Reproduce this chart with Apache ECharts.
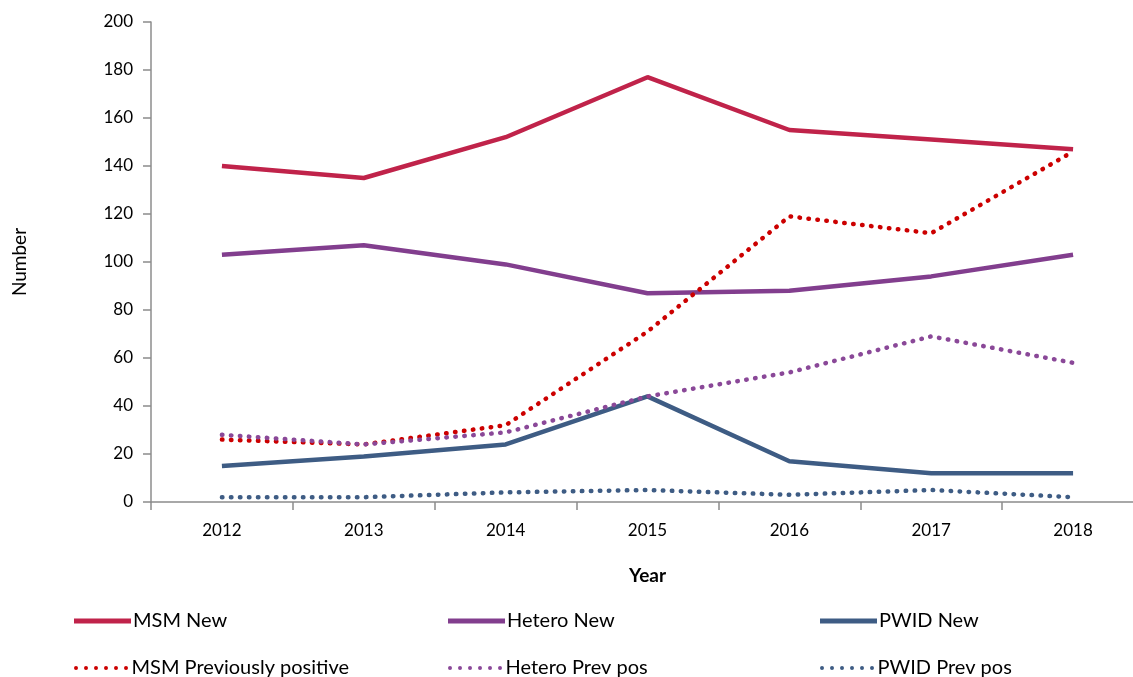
<!DOCTYPE html>
<html><head><meta charset="utf-8">
<script src="https://cdn.jsdelivr.net/npm/echarts@6/dist/echarts.min.js"></script>
<style>html,body{margin:0;padding:0;background:#fff;overflow:hidden}#c{width:1144px;height:677px}</style>
</head><body><div id="c"></div>
<script>
const years = ['2012','2013','2014','2015','2016','2017','2018'];
const yTicks = [0,20,40,60,80,100,120,140,160,180,200];
const msmNew = [140,135,152,177,155,151,147];
const heteroNew = [103,107,99,87,88,94,103];
const pwidNew = [15,19,24,44,17,12,12];
const msmPrev = [26,24,32,71,119,112,146];
const heteroPrev = [28,24,29,44,54,69,58];
const pwidPrev = [2,2,4,5,3,5,2];
const seriesNames = ['MSM New','Hetero New','PWID New','MSM Previously positive','Hetero Prev pos','PWID Prev pos'];

const FONT = 'Lato, "Noto Sans", sans-serif';
const colors = ['#C0234A','#823E8E','#3E5C84','#CC0000','#8A4898','#3E5C84'];
const dataArr = [msmNew, heteroNew, pwidNew, msmPrev, heteroPrev, pwidPrev];
const dotted = [false,false,false,true,true,true];

const series = seriesNames.map((n,i)=>({
  name:n, type:'line', data:dataArr[i], symbol:'none', showSymbol:false, z: dotted[i]?3:2,
  lineStyle: dotted[i] ? {color:colors[i], width:4.5, type:[0.5,8.5], cap:'round'} : {color:colors[i], width:4.5},
  itemStyle:{color:colors[i]}
}));

const solidIcon = 'path://M0,0h57v5h-57z';
const dotIcon = 'path://M2,0a2,2 0 1,1 0,4a2,2 0 1,1 0,-4z M12,0a2,2 0 1,1 0,4a2,2 0 1,1 0,-4z M22,0a2,2 0 1,1 0,4a2,2 0 1,1 0,-4z M32,0a2,2 0 1,1 0,4a2,2 0 1,1 0,-4z M42,0a2,2 0 1,1 0,4a2,2 0 1,1 0,-4z M52,0a2,2 0 1,1 0,4a2,2 0 1,1 0,-4z';

const legPos = [[74,611],[448,611],[820,611],[74,658],[448,658],[820,658]];
const legend = seriesNames.map((n,i)=>({
  data:[{name:n, icon: dotted[i]?dotIcon:solidIcon, itemStyle:{color:colors[i]}}],
  left:legPos[i][0], top:legPos[i][1], padding:0,
  itemWidth:57, itemHeight: dotted[i]?4:5, itemGap:4,
  textStyle:{fontFamily:FONT, fontSize:20, color:'#000', padding:[0,0,0,-3]},
  selectedMode:false
}));

const chart = echarts.init(document.getElementById('c'), null, {renderer:'canvas'});
chart.setOption({
  animation:false,
  backgroundColor:'#fff',
  grid:{left:151, top:22, right:0, bottom:175, containLabel:false},
  legend: legend,
  xAxis:{
    type:'category', data:years, boundaryGap:true,
    name:'Year', nameLocation:'middle', nameGap:64,
    nameTextStyle:{fontFamily:FONT, fontSize:19, fontWeight:'bold', color:'#000'},
    axisLine:{lineStyle:{color:'#8c8c8c', width:1.5}},
    axisTick:{show:true, length:8, lineStyle:{color:'#8c8c8c', width:1.5}},
    axisLabel:{fontFamily:FONT, fontSize:17, color:'#000', margin:20},
    splitLine:{show:false}
  },
  yAxis:{
    type:'value', min:0, max:200, interval:20,
    name:'Number', nameLocation:'middle', nameGap:122, nameRotate:90,
    nameTextStyle:{fontFamily:FONT, fontSize:19, color:'#000'},
    axisLine:{show:true, lineStyle:{color:'#8c8c8c', width:1.5}},
    axisTick:{show:true, length:8, lineStyle:{color:'#8c8c8c', width:1.5}},
    axisLabel:{fontFamily:FONT, fontSize:17, color:'#000', margin:18,
      formatter:v=> yTicks.includes(v) ? String(v) : ''},
    splitLine:{show:false}
  },
  series: series
});
</script></body></html>
